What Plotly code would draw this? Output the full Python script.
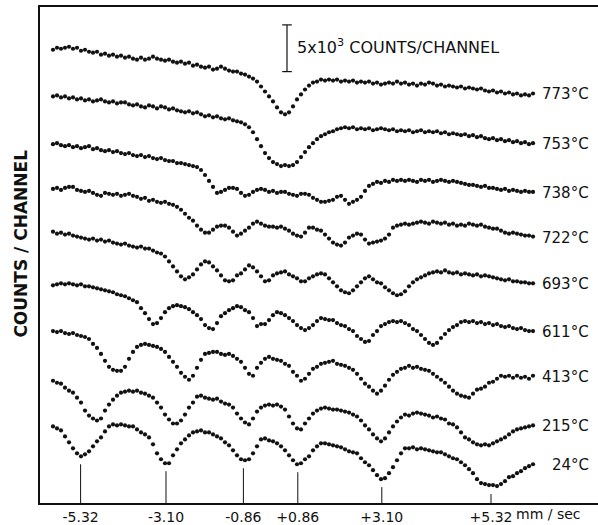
import plotly.graph_objects as go

# Channel-indexed Mossbauer spectra (counts, arbitrary offset units; 47 units = 5x10^3 counts)
temps = ["773°C", "753°C", "738°C", "722°C", "693°C", "611°C", "413°C", "215°C", "24°C"]

s773 = [456,458,457,458,459,457,458,455,456,454,
        453,454,451,452,450,451,449,450,448,449,
        447,446,448,446,447,449,447,446,445,446,
        444,443,444,442,443,440,441,439,438,439,
        436,437,439,437,435,434,434,432,431,429,
        427,424,419,414,409,404,398,393,391,393,
        399,406,411,416,420,423,424,426,425,426,
        425,426,424,425,424,425,423,424,423,424,
        422,423,421,422,423,422,424,422,423,421,
        422,420,422,421,423,422,420,421,419,420,
        419,418,419,417,418,417,416,417,415,414,
        415,413,414,412,413,411,412,410,411,410,
        412]
s753 = [409,410,408,409,407,408,406,407,405,406,
        404,405,406,404,403,404,402,403,403,401,
        400,401,399,398,400,399,397,399,398,396,
        397,395,394,393,394,392,393,391,389,390,
        388,389,387,386,387,385,384,383,381,378,
        373,366,359,352,347,343,341,339,340,339,
        340,343,348,353,358,362,366,369,371,373,
        374,376,377,378,377,378,376,377,376,377,
        375,376,377,376,375,376,374,375,374,375,
        373,374,375,373,374,373,374,372,373,371,
        372,371,370,371,369,370,368,369,367,366,
        367,365,366,364,365,363,364,362,363,361,
        362]
s738 = [361,362,360,359,360,358,359,357,358,359,
        356,357,355,354,355,353,354,352,351,352,
        350,349,350,348,349,347,346,347,345,344,
        344,342,342,341,340,339,338,335,330,324,
        318,312,313,315,317,317,316,312,309,310,
        313,315,316,315,313,314,312,313,313,311,
        310,309,311,311,310,307,305,303,303,304,
        305,308,309,305,301,303,305,308,314,319,
        321,323,322,324,323,325,324,325,324,325,
        324,323,325,324,325,323,324,325,324,323,
        324,323,322,321,320,320,319,318,319,317,
        317,316,315,316,314,315,314,313,314,313,
        313]
s722 = [316,317,315,317,318,318,315,314,313,314,
        312,310,309,312,311,310,311,309,310,311,
        309,308,306,307,304,305,303,302,303,301,
        300,298,295,291,287,284,279,275,272,272,
        275,278,279,279,277,273,269,271,274,277,
        281,283,281,279,278,278,277,278,276,274,
        271,269,268,272,277,277,275,274,270,266,
        262,260,259,262,267,269,271,270,265,261,
        262,263,264,266,270,277,279,280,281,280,
        281,282,283,282,281,283,282,281,282,280,
        281,279,280,279,281,280,279,280,278,277,
        276,276,274,272,271,272,271,270,269,269,
        268]
s693 = [273,271,272,270,271,269,268,267,266,265,
        266,264,265,263,264,262,261,260,261,259,
        258,257,258,256,256,254,252,251,248,243,
        238,233,228,225,227,230,235,240,243,242,
        238,234,229,224,223,224,229,231,235,239,
        237,233,228,223,224,229,231,232,233,230,
        228,226,223,223,226,228,230,231,230,226,
        222,218,214,212,211,214,218,222,226,228,
        225,222,221,217,214,211,209,210,213,218,
        222,225,227,229,231,232,233,232,234,232,
        231,232,230,231,230,229,230,228,229,228,
        227,226,225,224,225,223,223,222,222,221,
        221]
s611 = [219,220,221,220,221,220,219,220,218,218,
        217,216,215,214,213,212,210,209,208,206,
        204,202,196,191,185,180,181,186,192,196,
        198,199,198,197,195,192,189,185,179,176,
        175,181,188,191,194,196,198,197,194,192,
        186,178,180,180,184,189,192,191,189,186,
        183,179,176,174,176,179,183,186,185,184,
        184,181,179,178,175,173,168,165,162,163,
        169,173,178,180,182,183,182,183,181,179,
        175,173,169,165,161,159,161,166,170,174,
        177,179,182,183,182,183,181,182,180,181,
        179,180,178,177,178,176,175,176,174,173,
        173]
s413 = [173,172,173,171,170,171,169,168,167,165,
        160,156,150,143,137,134,133,133,137,145,
        152,157,159,160,159,158,157,155,152,147,
        142,137,131,127,124,128,136,144,150,151,
        152,152,150,149,150,148,145,142,136,130,
        128,136,141,145,147,145,144,143,140,138,
        132,128,123,125,130,135,137,140,141,142,
        143,140,139,138,136,134,130,125,120,117,
        113,110,113,118,124,129,132,135,136,138,
        136,137,135,134,133,130,127,124,121,117,
        113,110,108,107,106,110,114,115,117,121,
        122,125,128,127,128,126,128,126,127,125,
        128]
s215 = [123,121,120,116,113,111,106,101,93,88,
        85,83,85,93,99,104,108,111,112,113,
        112,113,111,110,108,106,101,96,89,84,
        80,80,83,89,96,101,107,108,106,105,
        104,105,102,100,99,96,90,85,81,79,
        85,92,96,98,99,98,99,97,94,87,
        80,75,74,80,85,90,93,95,96,95,
        94,94,93,92,91,89,87,83,78,74,
        69,65,62,65,71,77,82,86,89,88,
        90,91,90,89,88,86,87,85,84,80,
        79,76,71,66,64,61,59,58,59,58,
        60,62,64,66,69,72,74,75,76,77,
        78]
s24 = [77,75,73,67,61,55,50,47,49,52,
       57,62,66,72,77,79,78,79,78,77,
       77,74,71,69,66,59,50,44,40,40,
       48,54,60,64,68,71,72,73,71,71,
       69,67,65,61,58,53,48,44,43,44,
       50,57,64,65,63,62,60,57,53,48,
       43,39,40,44,47,53,57,60,60,59,
       58,57,56,54,52,51,50,45,41,38,
       33,28,24,25,30,36,43,50,55,55,
       56,54,55,54,53,52,51,51,49,47,
       45,44,41,38,34,30,24,20,19,18,
       18,17,19,22,26,27,30,32,35,37,
       39]

spectra = [s773, s753, s738, s722, s693, s611, s413, s215, s24]

# velocity calibration ticks (channel positions) and their labels
tick_channels = [6.9, 28.25, 47.6, 61.2, 82.2, 109.5]
tick_labels = ["-5.32", "-3.10", "-0.86", "+0.86", "+3.10", "+5.32"]

SCALE_COUNTS = 47   # axis units corresponding to 5x10^3 counts

FONT = "DejaVu Sans"
INK = "#111111"

fig = go.Figure()

for name, vals in zip(temps, spectra):
    fig.add_trace(go.Scatter(
        x=list(range(len(vals))), y=vals, mode="markers", name=name,
        marker=dict(size=4.2, color=INK), showlegend=False, hoverinfo="skip"))
    fig.add_annotation(x=0.987, xref="paper", y=vals[-1] - 1, yref="y",
                       text=name, showarrow=False, xanchor="right", yanchor="middle",
                       font=dict(family=FONT, size=15, color=INK))

# calibration marker lines rising from the axis to just below the 24°C spectrum
ref = spectra[-1]
tx, ty = [], []
for c in tick_channels:
    lo = max(0, int(c) - 1)
    hi = min(len(ref), int(c) + 3)
    top = min(ref[lo:hi]) - 8
    tx += [c, c, None]
    ty += [0, top, None]
fig.add_trace(go.Scatter(x=tx, y=ty, mode="lines", line=dict(color=INK, width=1),
                         showlegend=False, hoverinfo="skip"))

# scale bar
sb_x, sb_y0 = 58.5, 434
cap = 1.2
for shp in [dict(x0=sb_x, x1=sb_x, y0=sb_y0, y1=sb_y0 + SCALE_COUNTS),
            dict(x0=sb_x - cap, x1=sb_x + cap, y0=sb_y0, y1=sb_y0),
            dict(x0=sb_x - cap, x1=sb_x + cap, y0=sb_y0 + SCALE_COUNTS, y1=sb_y0 + SCALE_COUNTS)]:
    fig.add_shape(type="line", xref="x", yref="y", line=dict(color=INK, width=1.2), **shp)
fig.add_annotation(x=sb_x + 2.0, y=sb_y0 + SCALE_COUNTS / 2 + 2, xref="x", yref="y",
                   text="5x10<sup>3</sup> COUNTS/CHANNEL", showarrow=False,
                   xanchor="left", yanchor="middle",
                   font=dict(family=FONT, size=16, color=INK))

# y axis title
fig.add_annotation(x=-0.034, y=0.523, xref="paper", yref="paper",
                   text="<b>COUNTS / CHANNEL</b>", textangle=-90, showarrow=False,
                   xanchor="center", yanchor="middle",
                   font=dict(family=FONT, size=17, color=INK))
# velocity unit
fig.add_annotation(x=0.912, y=-0.022, xref="paper", yref="paper",
                   text="mm / sec", showarrow=False, xanchor="center", yanchor="middle",
                   font=dict(family=FONT, size=14, color=INK))

fig.update_layout(
    width=598, height=525,
    margin=dict(l=40, r=0, t=7, b=19),
    paper_bgcolor="white", plot_bgcolor="white",
    xaxis=dict(range=[-3.25, 136.25], showline=True, linecolor=INK, linewidth=1.5,
               mirror=True, showgrid=False, zeroline=False, ticks="",
               tickvals=tick_channels, ticktext=tick_labels,
               tickfont=dict(family=FONT, size=14, color=INK)),
    yaxis=dict(range=[0, 499], showline=True, linecolor=INK, linewidth=1.5,
               mirror=False, showgrid=False, zeroline=False, ticks="",
               showticklabels=False),
)

fig.write_html("out.html", config={"displayModeBar": False},
               post_script="document.body.style.margin='0px';document.body.style.padding='0px';")
